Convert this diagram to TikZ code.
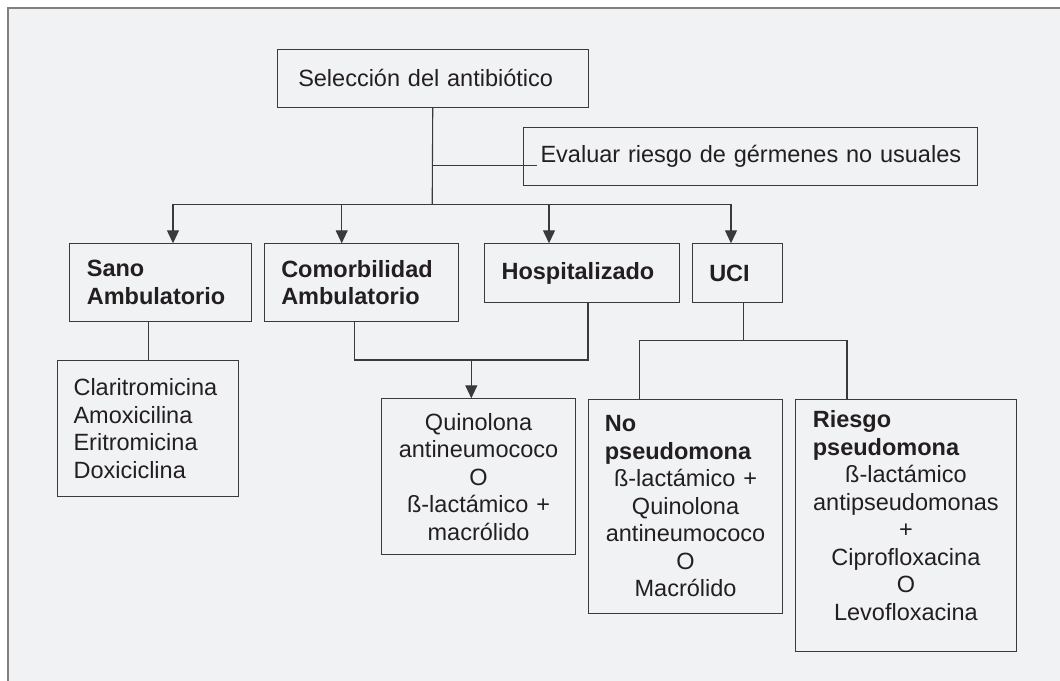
\documentclass[tikz,border=0pt]{standalone}
\usepackage{fontspec}
\setmainfont{Liberation Sans}
\usetikzlibrary{arrows.meta}
\definecolor{bg}{HTML}{F1F2F4}
\definecolor{framec}{HTML}{808080}
\definecolor{ln}{HTML}{3A3A3A}
\definecolor{tx}{HTML}{231F20}
\newcommand{\lft}[1]{#1\hskip 0pt plus 1filll\null}
\begin{document}
\begin{tikzpicture}[x=1bp,y=-1bp,
  box/.style={draw=ln, line width=1.1bp, anchor=north west, inner xsep=17bp, inner ysep=0pt,
    font=\fontsize{23.5bp}{27.5bp}\selectfont, text=tx},
  conn/.style={draw=ln, line width=1.1bp},
  arr/.style={conn, -{Triangle[width=12bp,length=13bp]}},
]
\useasboundingbox (0,0) rectangle (1060,681);
\fill[bg] (8,8) rectangle (1060,681);
\draw[framec, line width=1.5bp] (8,681) -- (8,8) -- (1060,8);

% boxes
\node[box, inner xsep=21bp, text width=269bp, minimum height=57.7bp, align=left] (sel) at (276.7,49) {\mbox{Selección del antibiótico}};
\node[box, text width=419.7bp, minimum height=58bp, align=left] (ev) at (523,126.7) {\mbox{Evaluar riesgo de gérmenes no usuales}};

\node[box, text width=147.7bp, minimum height=77.4bp, align=left, font=\fontsize{23.5bp}{27.5bp}\selectfont\bfseries] (sano) at (69.3,243.3) {Sano\\Ambulatorio};
\node[box, text width=160.6bp, minimum height=77.4bp, align=left, font=\fontsize{23.5bp}{27.5bp}\selectfont\bfseries] (com) at (263.7,243.3) {Comorbilidad\\Ambulatorio};
\node[box, text width=160.7bp, minimum height=58.4bp, align=left, font=\fontsize{23.5bp}{27.5bp}\selectfont\bfseries] (hosp) at (484,243.3) {Hospitalizado};
\node[box, text width=56.6bp, minimum height=58.4bp, align=left, font=\fontsize{23.5bp}{27.5bp}\selectfont\bfseries] (uci) at (691.7,243.3) {UCI};

\node[box, inner xsep=16.3bp, text width=149bp, minimum height=136bp, align=left] (clar) at (56.7,360) {Claritromicina\\Amoxicilina\\Eritromicina\\Doxiciclina};
\node[box, inner xsep=12bp, text width=170.6bp, minimum height=156bp, align=center] (quin) at (380.7,398.3) {Quinolona\\antineumococo\\O\\ß-lactámico +\\macrólido};
\node[box, inner xsep=12bp, text width=170.6bp, minimum height=214bp, align=center] (nop) at (587.7,398.7)
  {\lft{\hspace*{4.6bp}\textbf{No}}\\\lft{\hspace*{4.6bp}\textbf{pseudomona}}\\ß-lactámico +\\Quinolona\\antineumococo\\O\\Macrólido};
\node[box, inner xsep=12bp, text width=196.7bp, minimum height=252.6bp, align=center] (rie) at (795,398.7)
  {\lft{\hspace*{5.3bp}\textbf{Riesgo}}\\\lft{\hspace*{5.3bp}\textbf{pseudomona}}\\ß-lactámico\\antipseudomonas\\+\\Ciprofloxacina\\O\\Levofloxacina\rule[-20bp]{0pt}{1bp}};

% connectors
\coordinate (bus) at (432.2,204.3);
\coordinate (busL) at (173,204.3);
\coordinate (busR) at (731,204.3);
\coordinate (b2) at (341.7,204.3);
\coordinate (b3) at (549,204.3);
\coordinate (evj) at (432.2,165.3);
\coordinate (evin) at (536.7,165.3);
\draw[conn] (sel.south) -- (bus);
\draw[conn] (evj) -- (evin);
\draw[conn] (busL) -- (busR);
\draw[arr] (busL) -- (busL |- sano.north);
\draw[arr] (b2) -- (b2 |- com.north);
\draw[arr] (b3) -- (b3 |- hosp.north);
\draw[arr] (busR) -- (busR |- uci.north);

\draw[conn] (clar.north |- sano.south) -- (clar.north);

\coordinate (m1) at (354.3,360);
\coordinate (m2) at (588,360);
\coordinate (m3) at (471.3,360);
\draw[conn] (m1 |- com.south) -- (m1) -- (m2) -- (m2 |- hosp.south);
\draw[arr] (m3) -- (m3 |- quin.north);

\coordinate (u1) at (743.3,340.7);
\coordinate (u2) at (639.3,340.7);
\coordinate (u3) at (847,340.7);
\draw[conn] (u1 |- uci.south) -- (u1);
\draw[conn] (u2 |- nop.north) -- (u2) -- (u3) -- (u3 |- rie.north);
\end{tikzpicture}
\end{document}
